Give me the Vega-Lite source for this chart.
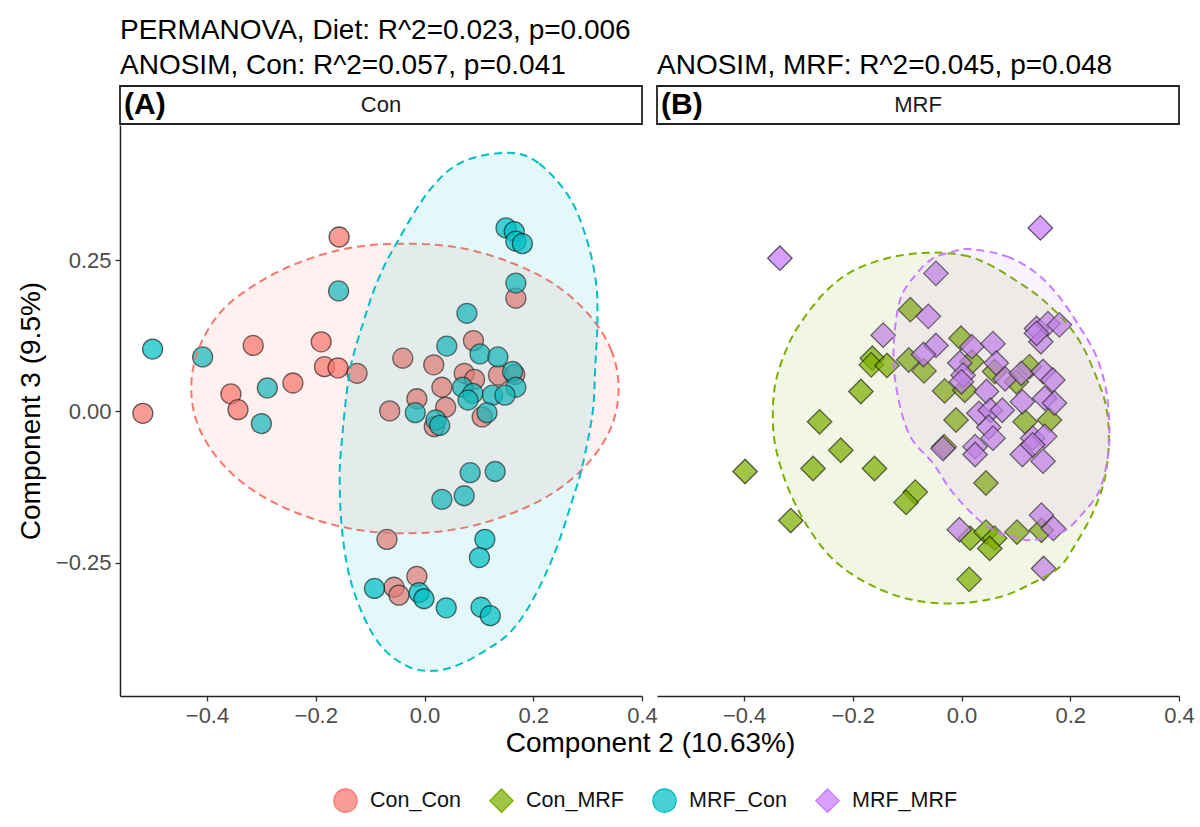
{
  "$schema": "https://vega.github.io/schema/vega-lite/v6.json",
  "padding": {"left": 17, "top": 17, "right": 15, "bottom": 5},
  "background": "white",
  "title": {"text": "PERMANOVA, Diet: R^2=0.023, p=0.006", "anchor": "start", "frame": "group", "fontSize": 28, "fontWeight": "normal", "color": "#000", "offset": 6},
  "config": {
    "font": "Liberation Sans",
    "view": {"stroke": null},
    "axis": {"grid": false, "domainColor": "#222", "domainWidth": 1.5, "tickColor": "#333", "tickWidth": 1.3, "tickSize": 5, "labelColor": "#4D4D4D", "labelFontSize": 22, "labelFlush": false, "labelOverlap": false, "titleFontSize": 28, "titleFontWeight": "normal", "titleColor": "#000", "labelPadding": 4},
    "legend": {"orient": "none", "legendX": 213, "legendY": 702, "direction": "horizontal", "labelFontSize": 21.5, "labelColor": "#111", "symbolSize": 540, "labelOffset": 12, "columnPadding": 26, "symbolStrokeColor": "#444", "symbolStrokeWidth": 1.3},
    "title": {"font": "Liberation Sans"}
  },
  "datasets": {
    "pts": [
      {"p": "A", "g": "Con_Con", "x": -0.157, "y": 0.288},
      {"p": "A", "g": "Con_Con", "x": -0.315, "y": 0.109},
      {"p": "A", "g": "Con_Con", "x": -0.190, "y": 0.115},
      {"p": "A", "g": "Con_Con", "x": -0.184, "y": 0.074},
      {"p": "A", "g": "Con_Con", "x": -0.159, "y": 0.072},
      {"p": "A", "g": "Con_Con", "x": -0.124, "y": 0.063},
      {"p": "A", "g": "Con_Con", "x": -0.242, "y": 0.047},
      {"p": "A", "g": "Con_Con", "x": -0.356, "y": 0.029},
      {"p": "A", "g": "Con_Con", "x": -0.343, "y": 0.003},
      {"p": "A", "g": "Con_Con", "x": -0.518, "y": -0.003},
      {"p": "A", "g": "Con_Con", "x": 0.168, "y": 0.187},
      {"p": "A", "g": "Con_Con", "x": -0.040, "y": 0.088},
      {"p": "A", "g": "Con_Con", "x": 0.017, "y": 0.077},
      {"p": "A", "g": "Con_Con", "x": 0.090, "y": 0.117},
      {"p": "A", "g": "Con_Con", "x": 0.032, "y": 0.040},
      {"p": "A", "g": "Con_Con", "x": 0.073, "y": 0.063},
      {"p": "A", "g": "Con_Con", "x": 0.092, "y": 0.053},
      {"p": "A", "g": "Con_Con", "x": 0.136, "y": 0.060},
      {"p": "A", "g": "Con_Con", "x": 0.166, "y": 0.061},
      {"p": "A", "g": "Con_Con", "x": -0.014, "y": 0.021},
      {"p": "A", "g": "Con_Con", "x": -0.064, "y": 0.001},
      {"p": "A", "g": "Con_Con", "x": 0.039, "y": 0.007},
      {"p": "A", "g": "Con_Con", "x": 0.018, "y": -0.025},
      {"p": "A", "g": "Con_Con", "x": 0.106, "y": -0.009},
      {"p": "A", "g": "Con_Con", "x": -0.069, "y": -0.211},
      {"p": "A", "g": "Con_Con", "x": -0.014, "y": -0.272},
      {"p": "A", "g": "Con_Con", "x": -0.056, "y": -0.290},
      {"p": "A", "g": "Con_Con", "x": -0.047, "y": -0.303},
      {"p": "A", "g": "MRF_Con", "x": -0.158, "y": 0.199},
      {"p": "A", "g": "MRF_Con", "x": -0.500, "y": 0.103},
      {"p": "A", "g": "MRF_Con", "x": -0.408, "y": 0.090},
      {"p": "A", "g": "MRF_Con", "x": -0.289, "y": 0.039},
      {"p": "A", "g": "MRF_Con", "x": -0.300, "y": -0.020},
      {"p": "A", "g": "MRF_Con", "x": 0.150, "y": 0.303},
      {"p": "A", "g": "MRF_Con", "x": 0.165, "y": 0.297},
      {"p": "A", "g": "MRF_Con", "x": 0.168, "y": 0.281},
      {"p": "A", "g": "MRF_Con", "x": 0.180, "y": 0.277},
      {"p": "A", "g": "MRF_Con", "x": 0.168, "y": 0.212},
      {"p": "A", "g": "MRF_Con", "x": 0.078, "y": 0.162},
      {"p": "A", "g": "MRF_Con", "x": 0.041, "y": 0.108},
      {"p": "A", "g": "MRF_Con", "x": 0.102, "y": 0.095},
      {"p": "A", "g": "MRF_Con", "x": 0.135, "y": 0.090},
      {"p": "A", "g": "MRF_Con", "x": 0.162, "y": 0.066},
      {"p": "A", "g": "MRF_Con", "x": 0.168, "y": 0.040},
      {"p": "A", "g": "MRF_Con", "x": 0.070, "y": 0.040},
      {"p": "A", "g": "MRF_Con", "x": 0.089, "y": 0.030},
      {"p": "A", "g": "MRF_Con", "x": 0.080, "y": 0.019},
      {"p": "A", "g": "MRF_Con", "x": 0.125, "y": 0.027},
      {"p": "A", "g": "MRF_Con", "x": 0.148, "y": 0.027},
      {"p": "A", "g": "MRF_Con", "x": 0.115, "y": -0.002},
      {"p": "A", "g": "MRF_Con", "x": -0.017, "y": -0.002},
      {"p": "A", "g": "MRF_Con", "x": 0.021, "y": -0.014},
      {"p": "A", "g": "MRF_Con", "x": 0.028, "y": -0.023},
      {"p": "A", "g": "MRF_Con", "x": 0.084, "y": -0.101},
      {"p": "A", "g": "MRF_Con", "x": 0.130, "y": -0.099},
      {"p": "A", "g": "MRF_Con", "x": 0.032, "y": -0.145},
      {"p": "A", "g": "MRF_Con", "x": 0.073, "y": -0.139},
      {"p": "A", "g": "MRF_Con", "x": -0.092, "y": -0.292},
      {"p": "A", "g": "MRF_Con", "x": -0.010, "y": -0.299},
      {"p": "A", "g": "MRF_Con", "x": -0.001, "y": -0.309},
      {"p": "A", "g": "MRF_Con", "x": 0.040, "y": -0.324},
      {"p": "A", "g": "MRF_Con", "x": 0.104, "y": -0.323},
      {"p": "A", "g": "MRF_Con", "x": 0.121, "y": -0.337},
      {"p": "A", "g": "MRF_Con", "x": 0.111, "y": -0.211},
      {"p": "A", "g": "MRF_Con", "x": 0.101, "y": -0.241},
      {"p": "B", "g": "Con_MRF", "x": -0.094, "y": 0.168},
      {"p": "B", "g": "Con_MRF", "x": -0.164, "y": 0.088},
      {"p": "B", "g": "Con_MRF", "x": -0.166, "y": 0.077},
      {"p": "B", "g": "Con_MRF", "x": -0.137, "y": 0.076},
      {"p": "B", "g": "Con_MRF", "x": -0.097, "y": 0.085},
      {"p": "B", "g": "Con_MRF", "x": -0.069, "y": 0.067},
      {"p": "B", "g": "Con_MRF", "x": -0.001, "y": 0.121},
      {"p": "B", "g": "Con_MRF", "x": -0.031, "y": 0.034},
      {"p": "B", "g": "Con_MRF", "x": -0.185, "y": 0.033},
      {"p": "B", "g": "Con_MRF", "x": -0.261, "y": -0.017},
      {"p": "B", "g": "Con_MRF", "x": -0.222, "y": -0.064},
      {"p": "B", "g": "Con_MRF", "x": -0.010, "y": -0.014},
      {"p": "B", "g": "Con_MRF", "x": -0.032, "y": -0.058},
      {"p": "B", "g": "Con_MRF", "x": 0.019, "y": 0.082},
      {"p": "B", "g": "Con_MRF", "x": 0.006, "y": 0.035},
      {"p": "B", "g": "Con_MRF", "x": 0.061, "y": 0.066},
      {"p": "B", "g": "Con_MRF", "x": 0.101, "y": 0.049},
      {"p": "B", "g": "Con_MRF", "x": 0.125, "y": 0.074},
      {"p": "B", "g": "Con_MRF", "x": 0.117, "y": -0.017},
      {"p": "B", "g": "Con_MRF", "x": 0.162, "y": -0.014},
      {"p": "B", "g": "Con_MRF", "x": -0.398, "y": -0.099},
      {"p": "B", "g": "Con_MRF", "x": -0.273, "y": -0.094},
      {"p": "B", "g": "Con_MRF", "x": -0.160, "y": -0.094},
      {"p": "B", "g": "Con_MRF", "x": -0.314, "y": -0.180},
      {"p": "B", "g": "Con_MRF", "x": -0.085, "y": -0.133},
      {"p": "B", "g": "Con_MRF", "x": -0.102, "y": -0.150},
      {"p": "B", "g": "Con_MRF", "x": 0.045, "y": -0.118},
      {"p": "B", "g": "Con_MRF", "x": 0.016, "y": -0.209},
      {"p": "B", "g": "Con_MRF", "x": 0.045, "y": -0.199},
      {"p": "B", "g": "Con_MRF", "x": 0.061, "y": -0.209},
      {"p": "B", "g": "Con_MRF", "x": 0.052, "y": -0.226},
      {"p": "B", "g": "Con_MRF", "x": 0.102, "y": -0.199},
      {"p": "B", "g": "Con_MRF", "x": 0.147, "y": -0.196},
      {"p": "B", "g": "Con_MRF", "x": 0.014, "y": -0.277},
      {"p": "B", "g": "MRF_MRF", "x": -0.334, "y": 0.253},
      {"p": "B", "g": "MRF_MRF", "x": -0.047, "y": 0.228},
      {"p": "B", "g": "MRF_MRF", "x": -0.061, "y": 0.157},
      {"p": "B", "g": "MRF_MRF", "x": -0.144, "y": 0.126},
      {"p": "B", "g": "MRF_MRF", "x": -0.047, "y": 0.109},
      {"p": "B", "g": "MRF_MRF", "x": -0.070, "y": 0.094},
      {"p": "B", "g": "MRF_MRF", "x": -0.034, "y": -0.061},
      {"p": "B", "g": "MRF_MRF", "x": 0.145, "y": 0.303},
      {"p": "B", "g": "MRF_MRF", "x": 0.138, "y": 0.137},
      {"p": "B", "g": "MRF_MRF", "x": 0.159, "y": 0.145},
      {"p": "B", "g": "MRF_MRF", "x": 0.180, "y": 0.143},
      {"p": "B", "g": "MRF_MRF", "x": 0.146, "y": 0.115},
      {"p": "B", "g": "MRF_MRF", "x": 0.138, "y": 0.129},
      {"p": "B", "g": "MRF_MRF", "x": 0.019, "y": 0.107},
      {"p": "B", "g": "MRF_MRF", "x": 0.058, "y": 0.112},
      {"p": "B", "g": "MRF_MRF", "x": -0.003, "y": 0.080},
      {"p": "B", "g": "MRF_MRF", "x": 0.064, "y": 0.080},
      {"p": "B", "g": "MRF_MRF", "x": 0.003, "y": 0.060},
      {"p": "B", "g": "MRF_MRF", "x": 0.000, "y": 0.049},
      {"p": "B", "g": "MRF_MRF", "x": 0.080, "y": 0.054},
      {"p": "B", "g": "MRF_MRF", "x": 0.110, "y": 0.063},
      {"p": "B", "g": "MRF_MRF", "x": 0.150, "y": 0.066},
      {"p": "B", "g": "MRF_MRF", "x": 0.168, "y": 0.052},
      {"p": "B", "g": "MRF_MRF", "x": 0.046, "y": 0.033},
      {"p": "B", "g": "MRF_MRF", "x": 0.032, "y": -0.003},
      {"p": "B", "g": "MRF_MRF", "x": 0.053, "y": 0.002},
      {"p": "B", "g": "MRF_MRF", "x": 0.075, "y": 0.002},
      {"p": "B", "g": "MRF_MRF", "x": 0.050, "y": -0.026},
      {"p": "B", "g": "MRF_MRF", "x": 0.058, "y": -0.044},
      {"p": "B", "g": "MRF_MRF", "x": 0.112, "y": 0.016},
      {"p": "B", "g": "MRF_MRF", "x": 0.153, "y": 0.022},
      {"p": "B", "g": "MRF_MRF", "x": 0.171, "y": 0.014},
      {"p": "B", "g": "MRF_MRF", "x": 0.131, "y": -0.044},
      {"p": "B", "g": "MRF_MRF", "x": 0.153, "y": -0.041},
      {"p": "B", "g": "MRF_MRF", "x": 0.025, "y": -0.058},
      {"p": "B", "g": "MRF_MRF", "x": 0.025, "y": -0.071},
      {"p": "B", "g": "MRF_MRF", "x": 0.112, "y": -0.071},
      {"p": "B", "g": "MRF_MRF", "x": 0.131, "y": -0.055},
      {"p": "B", "g": "MRF_MRF", "x": 0.150, "y": -0.082},
      {"p": "B", "g": "MRF_MRF", "x": -0.004, "y": -0.195},
      {"p": "B", "g": "MRF_MRF", "x": 0.147, "y": -0.171},
      {"p": "B", "g": "MRF_MRF", "x": 0.169, "y": -0.193},
      {"p": "B", "g": "MRF_MRF", "x": 0.151, "y": -0.259}
    ],
    "ell": [
      {"p": "A", "g": "Con_Con", "i": 0, "x": 0.357, "y": 0.038},
      {"p": "A", "g": "Con_Con", "i": 1, "x": 0.344, "y": 0.100},
      {"p": "A", "g": "Con_Con", "i": 2, "x": 0.304, "y": 0.158},
      {"p": "A", "g": "Con_Con", "i": 3, "x": 0.242, "y": 0.208},
      {"p": "A", "g": "Con_Con", "i": 4, "x": 0.161, "y": 0.245},
      {"p": "A", "g": "Con_Con", "i": 5, "x": 0.066, "y": 0.270},
      {"p": "A", "g": "Con_Con", "i": 6, "x": -0.036, "y": 0.277},
      {"p": "A", "g": "Con_Con", "i": 7, "x": -0.138, "y": 0.270},
      {"p": "A", "g": "Con_Con", "i": 8, "x": -0.233, "y": 0.245},
      {"p": "A", "g": "Con_Con", "i": 9, "x": -0.314, "y": 0.208},
      {"p": "A", "g": "Con_Con", "i": 10, "x": -0.376, "y": 0.163},
      {"p": "A", "g": "Con_Con", "i": 11, "x": -0.416, "y": 0.102},
      {"p": "A", "g": "Con_Con", "i": 12, "x": -0.429, "y": 0.038},
      {"p": "A", "g": "Con_Con", "i": 13, "x": -0.416, "y": -0.024},
      {"p": "A", "g": "Con_Con", "i": 14, "x": -0.376, "y": -0.082},
      {"p": "A", "g": "Con_Con", "i": 15, "x": -0.314, "y": -0.131},
      {"p": "A", "g": "Con_Con", "i": 16, "x": -0.233, "y": -0.168},
      {"p": "A", "g": "Con_Con", "i": 17, "x": -0.138, "y": -0.193},
      {"p": "A", "g": "Con_Con", "i": 18, "x": -0.036, "y": -0.201},
      {"p": "A", "g": "Con_Con", "i": 19, "x": 0.066, "y": -0.193},
      {"p": "A", "g": "Con_Con", "i": 20, "x": 0.161, "y": -0.168},
      {"p": "A", "g": "Con_Con", "i": 21, "x": 0.242, "y": -0.131},
      {"p": "A", "g": "Con_Con", "i": 22, "x": 0.304, "y": -0.082},
      {"p": "A", "g": "Con_Con", "i": 23, "x": 0.344, "y": -0.024},
      {"p": "A", "g": "MRF_Con", "i": 0, "x": 0.156, "y": 0.427},
      {"p": "A", "g": "MRF_Con", "i": 1, "x": 0.211, "y": 0.409},
      {"p": "A", "g": "MRF_Con", "i": 2, "x": 0.266, "y": 0.354},
      {"p": "A", "g": "MRF_Con", "i": 3, "x": 0.297, "y": 0.288},
      {"p": "A", "g": "MRF_Con", "i": 4, "x": 0.315, "y": 0.216},
      {"p": "A", "g": "MRF_Con", "i": 5, "x": 0.318, "y": 0.152},
      {"p": "A", "g": "MRF_Con", "i": 6, "x": 0.314, "y": 0.073},
      {"p": "A", "g": "MRF_Con", "i": 7, "x": 0.309, "y": -0.003},
      {"p": "A", "g": "MRF_Con", "i": 8, "x": 0.290, "y": -0.091},
      {"p": "A", "g": "MRF_Con", "i": 9, "x": 0.272, "y": -0.146},
      {"p": "A", "g": "MRF_Con", "i": 10, "x": 0.240, "y": -0.232},
      {"p": "A", "g": "MRF_Con", "i": 11, "x": 0.199, "y": -0.311},
      {"p": "A", "g": "MRF_Con", "i": 12, "x": 0.160, "y": -0.362},
      {"p": "A", "g": "MRF_Con", "i": 13, "x": 0.113, "y": -0.394},
      {"p": "A", "g": "MRF_Con", "i": 14, "x": 0.060, "y": -0.419},
      {"p": "A", "g": "MRF_Con", "i": 15, "x": 0.015, "y": -0.428},
      {"p": "A", "g": "MRF_Con", "i": 16, "x": -0.030, "y": -0.421},
      {"p": "A", "g": "MRF_Con", "i": 17, "x": -0.076, "y": -0.391},
      {"p": "A", "g": "MRF_Con", "i": 18, "x": -0.110, "y": -0.342},
      {"p": "A", "g": "MRF_Con", "i": 19, "x": -0.138, "y": -0.272},
      {"p": "A", "g": "MRF_Con", "i": 20, "x": -0.152, "y": -0.193},
      {"p": "A", "g": "MRF_Con", "i": 21, "x": -0.156, "y": -0.114},
      {"p": "A", "g": "MRF_Con", "i": 22, "x": -0.153, "y": -0.058},
      {"p": "A", "g": "MRF_Con", "i": 23, "x": -0.138, "y": 0.063},
      {"p": "A", "g": "MRF_Con", "i": 24, "x": -0.113, "y": 0.146},
      {"p": "A", "g": "MRF_Con", "i": 25, "x": -0.086, "y": 0.216},
      {"p": "A", "g": "MRF_Con", "i": 26, "x": -0.052, "y": 0.277},
      {"p": "A", "g": "MRF_Con", "i": 27, "x": 0.009, "y": 0.365},
      {"p": "A", "g": "MRF_Con", "i": 28, "x": 0.070, "y": 0.412},
      {"p": "B", "g": "Con_MRF", "i": 0, "x": -0.064, "y": 0.262},
      {"p": "B", "g": "Con_MRF", "i": 1, "x": 0.003, "y": 0.258},
      {"p": "B", "g": "Con_MRF", "i": 2, "x": 0.052, "y": 0.242},
      {"p": "B", "g": "Con_MRF", "i": 3, "x": 0.107, "y": 0.212},
      {"p": "B", "g": "Con_MRF", "i": 4, "x": 0.150, "y": 0.184},
      {"p": "B", "g": "Con_MRF", "i": 5, "x": 0.193, "y": 0.146},
      {"p": "B", "g": "Con_MRF", "i": 6, "x": 0.223, "y": 0.107},
      {"p": "B", "g": "Con_MRF", "i": 7, "x": 0.248, "y": 0.057},
      {"p": "B", "g": "Con_MRF", "i": 8, "x": 0.266, "y": 0.008},
      {"p": "B", "g": "Con_MRF", "i": 9, "x": 0.271, "y": -0.050},
      {"p": "B", "g": "Con_MRF", "i": 10, "x": 0.263, "y": -0.113},
      {"p": "B", "g": "Con_MRF", "i": 11, "x": 0.241, "y": -0.168},
      {"p": "B", "g": "Con_MRF", "i": 12, "x": 0.211, "y": -0.217},
      {"p": "B", "g": "Con_MRF", "i": 13, "x": 0.180, "y": -0.257},
      {"p": "B", "g": "Con_MRF", "i": 14, "x": 0.131, "y": -0.283},
      {"p": "B", "g": "Con_MRF", "i": 15, "x": 0.071, "y": -0.306},
      {"p": "B", "g": "Con_MRF", "i": 16, "x": -0.015, "y": -0.317},
      {"p": "B", "g": "Con_MRF", "i": 17, "x": -0.100, "y": -0.309},
      {"p": "B", "g": "Con_MRF", "i": 18, "x": -0.174, "y": -0.283},
      {"p": "B", "g": "Con_MRF", "i": 19, "x": -0.235, "y": -0.245},
      {"p": "B", "g": "Con_MRF", "i": 20, "x": -0.283, "y": -0.190},
      {"p": "B", "g": "Con_MRF", "i": 21, "x": -0.320, "y": -0.124},
      {"p": "B", "g": "Con_MRF", "i": 22, "x": -0.342, "y": -0.058},
      {"p": "B", "g": "Con_MRF", "i": 23, "x": -0.347, "y": -0.003},
      {"p": "B", "g": "Con_MRF", "i": 24, "x": -0.341, "y": 0.052},
      {"p": "B", "g": "Con_MRF", "i": 25, "x": -0.320, "y": 0.107},
      {"p": "B", "g": "Con_MRF", "i": 26, "x": -0.296, "y": 0.146},
      {"p": "B", "g": "Con_MRF", "i": 27, "x": -0.253, "y": 0.195},
      {"p": "B", "g": "Con_MRF", "i": 28, "x": -0.204, "y": 0.230},
      {"p": "B", "g": "Con_MRF", "i": 29, "x": -0.137, "y": 0.253},
      {"p": "B", "g": "MRF_MRF", "i": 0, "x": 0.016, "y": 0.268},
      {"p": "B", "g": "MRF_MRF", "i": 1, "x": 0.083, "y": 0.256},
      {"p": "B", "g": "MRF_MRF", "i": 2, "x": 0.138, "y": 0.228},
      {"p": "B", "g": "MRF_MRF", "i": 3, "x": 0.180, "y": 0.189},
      {"p": "B", "g": "MRF_MRF", "i": 4, "x": 0.217, "y": 0.140},
      {"p": "B", "g": "MRF_MRF", "i": 5, "x": 0.248, "y": 0.091},
      {"p": "B", "g": "MRF_MRF", "i": 6, "x": 0.266, "y": 0.035},
      {"p": "B", "g": "MRF_MRF", "i": 7, "x": 0.272, "y": -0.027},
      {"p": "B", "g": "MRF_MRF", "i": 8, "x": 0.269, "y": -0.075},
      {"p": "B", "g": "MRF_MRF", "i": 9, "x": 0.254, "y": -0.130},
      {"p": "B", "g": "MRF_MRF", "i": 10, "x": 0.223, "y": -0.168},
      {"p": "B", "g": "MRF_MRF", "i": 11, "x": 0.186, "y": -0.199},
      {"p": "B", "g": "MRF_MRF", "i": 12, "x": 0.131, "y": -0.212},
      {"p": "B", "g": "MRF_MRF", "i": 13, "x": 0.089, "y": -0.206},
      {"p": "B", "g": "MRF_MRF", "i": 14, "x": 0.040, "y": -0.185},
      {"p": "B", "g": "MRF_MRF", "i": 15, "x": -0.015, "y": -0.135},
      {"p": "B", "g": "MRF_MRF", "i": 16, "x": -0.052, "y": -0.086},
      {"p": "B", "g": "MRF_MRF", "i": 17, "x": -0.095, "y": -0.040},
      {"p": "B", "g": "MRF_MRF", "i": 18, "x": -0.118, "y": 0.030},
      {"p": "B", "g": "MRF_MRF", "i": 19, "x": -0.125, "y": 0.101},
      {"p": "B", "g": "MRF_MRF", "i": 20, "x": -0.113, "y": 0.184},
      {"p": "B", "g": "MRF_MRF", "i": 21, "x": -0.082, "y": 0.228},
      {"p": "B", "g": "MRF_MRF", "i": 22, "x": -0.052, "y": 0.253},
      {"p": "B", "g": "MRF_MRF", "i": 23, "x": -0.015, "y": 0.264}
    ],
    "strips": [
      {"p": "A", "tag": "(A)", "lab": "Con"},
      {"p": "B", "tag": "(B)", "lab": "MRF"}
    ]
  },
  "resolve": {"scale": {"color": "shared", "shape": "shared"}},
  "spacing": 0,
  "vconcat": [
    {
      "spacing": 15,
      "bounds": "flush",
      "hconcat": [
        {
          "width": 522, "height": 38,
          "title": {"text": "ANOSIM, Con: R^2=0.057, p=0.041", "anchor": "start", "fontSize": 28, "fontWeight": "normal", "color": "#000", "offset": 6},
          "view": {"stroke": "#222", "strokeWidth": 1.8},
          "data": {"name": "strips"},
          "transform": [{"filter": "datum.p === 'A'"}],
          "layer": [
            {"mark": {"type": "text", "fontSize": 22, "color": "#1A1A1A"}, "encoding": {"text": {"field": "lab"}}},
            {"mark": {"type": "text", "fontSize": 30, "fontWeight": "bold", "align": "left", "color": "#000"}, "encoding": {"text": {"field": "tag"}, "x": {"value": 4}}}
          ]
        },
        {
          "width": 522, "height": 38,
          "title": {"text": "ANOSIM, MRF: R^2=0.045, p=0.048", "anchor": "start", "fontSize": 28, "fontWeight": "normal", "color": "#000", "offset": 6},
          "view": {"stroke": "#222", "strokeWidth": 1.8},
          "data": {"name": "strips"},
          "transform": [{"filter": "datum.p === 'B'"}],
          "layer": [
            {"mark": {"type": "text", "fontSize": 22, "color": "#1A1A1A"}, "encoding": {"text": {"field": "lab"}}},
            {"mark": {"type": "text", "fontSize": 30, "fontWeight": "bold", "align": "left", "color": "#000"}, "encoding": {"text": {"field": "tag"}, "x": {"value": 4}}}
          ]
        }
      ]
    },
    {
      "spacing": 15,
      "bounds": "flush",
      "hconcat": [
        {
          "width": 522, "height": 571,
          "layer": [
            {
              "data": {"name": "pts"},
              "transform": [{"filter": "datum.p === 'A'"}],
              "mark": {"type": "point", "filled": true, "size": 400, "stroke": "#000", "strokeWidth": 1.3, "strokeOpacity": 0.6, "fillOpacity": 0.72},
              "encoding": {
                "x": {"field": "x", "type": "quantitative", "scale": {"domain": [-0.56, 0.4], "nice": false, "zero": false}, "axis": {"values": [-0.4, -0.2, 0, 0.2, 0.4], "format": ".1f", "title": "Component 2 (10.63%)", "titleX": 530, "titlePadding": 3}},
                "y": {"field": "y", "type": "quantitative", "scale": {"domain": [-0.4695, 0.4728], "nice": false, "zero": false}, "axis": {"values": [-0.25, 0, 0.25], "format": ".2f", "title": "Component 3 (9.5%)", "titlePadding": 10}},
                "color": {"field": "g", "type": "nominal", "scale": {"domain": ["Con_Con", "Con_MRF", "MRF_Con", "MRF_MRF"], "range": ["#F8766D", "#7CAE00", "#00BFC4", "#C77CFF"]}, "legend": {"title": null, "encode": {"symbols": {"update": {"stroke": {"value": "#555"}, "strokeWidth": {"value": 1.3}, "fillOpacity": {"value": 0.72}}}}}},
                "shape": {"field": "g", "type": "nominal", "scale": {"domain": ["Con_Con", "Con_MRF", "MRF_Con", "MRF_MRF"], "range": ["circle", "diamond", "circle", "diamond"]}, "legend": {"title": null, "encode": {"symbols": {"update": {"stroke": {"value": "#555"}, "strokeWidth": {"value": 1.3}, "fillOpacity": {"value": 0.72}}}}}}
              }
            },
            {
              "data": {"name": "ell"},
              "transform": [{"filter": "datum.p === 'A'"}],
              "mark": {"type": "line", "interpolate": "cardinal-closed", "strokeDash": [8, 5], "strokeWidth": 2, "fillOpacity": 0.1},
              "encoding": {
                "x": {"field": "x", "type": "quantitative"},
                "y": {"field": "y", "type": "quantitative"},
                "order": {"field": "i", "type": "quantitative"},
                "stroke": {"field": "g", "type": "nominal", "scale": {"domain": ["Con_Con", "Con_MRF", "MRF_Con", "MRF_MRF"], "range": ["#F8766D", "#7CAE00", "#00BFC4", "#C77CFF"]}, "legend": null},
                "fill": {"field": "g", "type": "nominal", "scale": {"domain": ["Con_Con", "Con_MRF", "MRF_Con", "MRF_MRF"], "range": ["#F8766D", "#7CAE00", "#00BFC4", "#C77CFF"]}, "legend": null}
              }
            }
          ]
        },
        {
          "width": 522, "height": 571,
          "layer": [
            {
              "data": {"name": "pts"},
              "transform": [{"filter": "datum.p === 'B'"}],
              "mark": {"type": "point", "filled": true, "size": 600, "stroke": "#000", "strokeWidth": 1.3, "strokeOpacity": 0.6, "fillOpacity": 0.72},
              "encoding": {
                "x": {"field": "x", "type": "quantitative", "scale": {"domain": [-0.56, 0.4], "nice": false, "zero": false}, "axis": {"values": [-0.4, -0.2, 0, 0.2, 0.4], "format": ".1f", "title": null}},
                "y": {"field": "y", "type": "quantitative", "scale": {"domain": [-0.4695, 0.4728], "nice": false, "zero": false}, "axis": null},
                "color": {"field": "g", "type": "nominal", "scale": {"domain": ["Con_Con", "Con_MRF", "MRF_Con", "MRF_MRF"], "range": ["#F8766D", "#7CAE00", "#00BFC4", "#C77CFF"]}, "legend": {"title": null, "encode": {"symbols": {"update": {"stroke": {"value": "#555"}, "strokeWidth": {"value": 1.3}, "fillOpacity": {"value": 0.72}}}}}},
                "shape": {"field": "g", "type": "nominal", "scale": {"domain": ["Con_Con", "Con_MRF", "MRF_Con", "MRF_MRF"], "range": ["circle", "diamond", "circle", "diamond"]}, "legend": {"title": null, "encode": {"symbols": {"update": {"stroke": {"value": "#555"}, "strokeWidth": {"value": 1.3}, "fillOpacity": {"value": 0.72}}}}}}
              }
            },
            {
              "data": {"name": "ell"},
              "transform": [{"filter": "datum.p === 'B'"}],
              "mark": {"type": "line", "interpolate": "cardinal-closed", "strokeDash": [8, 5], "strokeWidth": 2, "fillOpacity": 0.1},
              "encoding": {
                "x": {"field": "x", "type": "quantitative"},
                "y": {"field": "y", "type": "quantitative"},
                "order": {"field": "i", "type": "quantitative"},
                "stroke": {"field": "g", "type": "nominal", "scale": {"domain": ["Con_Con", "Con_MRF", "MRF_Con", "MRF_MRF"], "range": ["#F8766D", "#7CAE00", "#00BFC4", "#C77CFF"]}, "legend": null},
                "fill": {"field": "g", "type": "nominal", "scale": {"domain": ["Con_Con", "Con_MRF", "MRF_Con", "MRF_MRF"], "range": ["#F8766D", "#7CAE00", "#00BFC4", "#C77CFF"]}, "legend": null}
              }
            }
          ]
        }
      ]
    }
  ]
}
